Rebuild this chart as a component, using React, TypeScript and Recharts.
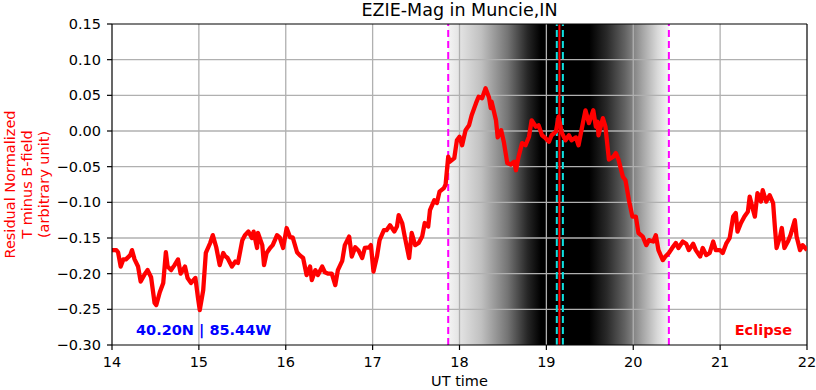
import React from "react";
import { LineChart, Line, XAxis, YAxis, ReferenceLine, ReferenceArea } from "recharts";

// UT hours and residual field
const utTime = [
  14.0, 14.05, 14.07, 14.1, 14.13, 14.16, 14.21, 14.23, 14.26, 14.3, 14.33, 14.38, 14.41, 14.45, 14.49, 14.51,
  14.55, 14.59, 14.62, 14.64, 14.68, 14.72, 14.76, 14.79, 14.84, 14.87, 14.91, 14.96, 14.99, 15.01, 15.05, 15.08,
  15.13, 15.16, 15.2, 15.24, 15.28, 15.3, 15.33, 15.38, 15.42, 15.45, 15.5, 15.53, 15.57, 15.61, 15.63, 15.67,
  15.68, 15.73, 15.75, 15.78, 15.82, 15.85, 15.9, 15.93, 15.97, 16.01, 16.05, 16.08, 16.13, 16.16, 16.2, 16.24,
  16.28, 16.3, 16.34, 16.37, 16.42, 16.45, 16.49, 16.53, 16.57, 16.6, 16.65, 16.68, 16.73, 16.76, 16.8, 16.84,
  16.88, 16.91, 16.96, 16.98, 17.01, 17.05, 17.08, 17.13, 17.16, 17.2, 17.25, 17.28, 17.3, 17.34, 17.37, 17.42,
  17.45, 17.49, 17.53, 17.57, 17.6, 17.64, 17.66, 17.71, 17.74, 17.77, 17.82, 17.84, 17.87, 17.89, 17.94, 17.97,
  18.0, 18.03, 18.07, 18.11, 18.14, 18.19, 18.22, 18.26, 18.3, 18.34, 18.36, 18.37, 18.42, 18.44, 18.48, 18.51,
  18.55, 18.59, 18.63, 18.65, 18.68, 18.72, 18.76, 18.8, 18.83, 18.88, 18.91, 18.95, 18.99, 19.03, 19.06, 19.11,
  19.14, 19.18, 19.22, 19.26, 19.29, 19.34, 19.37, 19.42, 19.45, 19.49, 19.54, 19.57, 19.59, 19.6, 19.65, 19.68,
  19.72, 19.77, 19.8, 19.83, 19.88, 19.91, 19.95, 19.99, 20.03, 20.06, 20.11, 20.15, 20.18, 20.23, 20.26, 20.29,
  20.34, 20.37, 20.41, 20.46, 20.49, 20.52, 20.57, 20.61, 20.64, 20.69, 20.72, 20.77, 20.8, 20.84, 20.88, 20.92,
  20.95, 21.0, 21.03, 21.07, 21.11, 21.15, 21.18, 21.2, 21.24, 21.28, 21.32, 21.34, 21.38, 21.4, 21.43, 21.47,
  21.49, 21.53, 21.57, 21.61, 21.63, 21.65, 21.69, 21.71, 21.74, 21.78, 21.81, 21.86, 21.88, 21.92, 21.95, 22.0,
];

const residual = [
  -0.167, -0.167, -0.17, -0.19, -0.18, -0.18, -0.174, -0.167, -0.18, -0.19, -0.211, -0.2, -0.195, -0.205, -0.241, -0.244,
  -0.226, -0.213, -0.17, -0.19, -0.195, -0.188, -0.18, -0.2, -0.19, -0.206, -0.213, -0.206, -0.234, -0.251, -0.223, -0.171,
  -0.157, -0.146, -0.163, -0.188, -0.171, -0.175, -0.178, -0.19, -0.183, -0.185, -0.153, -0.146, -0.141, -0.15, -0.141, -0.164,
  -0.143, -0.16, -0.188, -0.171, -0.164, -0.16, -0.146, -0.149, -0.164, -0.136, -0.149, -0.149, -0.17, -0.174, -0.178, -0.202,
  -0.19, -0.209, -0.195, -0.202, -0.19, -0.198, -0.2, -0.2, -0.216, -0.195, -0.182, -0.16, -0.148, -0.176, -0.163, -0.168,
  -0.178, -0.164, -0.163, -0.16, -0.197, -0.176, -0.153, -0.139, -0.139, -0.132, -0.141, -0.134, -0.118, -0.129, -0.148, -0.178,
  -0.143, -0.16, -0.157, -0.148, -0.129, -0.134, -0.111, -0.097, -0.101, -0.085, -0.08, -0.075, -0.036, -0.043, -0.038, -0.013,
  -0.008, -0.02, 0.001, 0.008, 0.022, 0.039, 0.048, 0.046, 0.06, 0.047, 0.032, 0.041, 0.015, -0.009, 0.001, -0.015,
  -0.045, -0.047, -0.043, -0.055, -0.036, -0.017, -0.02, -0.008, 0.015, 0.006, 0.008, -0.006, -0.01, -0.015, -0.006, -0.001,
  0.02, -0.003, -0.013, -0.006, -0.013, -0.009, -0.02, 0.011, 0.029, 0.011, 0.029, 0.006, 0.013, -0.006, 0.018, 0.006,
  -0.04, -0.036, -0.031, -0.04, -0.064, -0.069, -0.097, -0.12, -0.12, -0.143, -0.148, -0.16, -0.153, -0.155, -0.146, -0.167,
  -0.181, -0.176, -0.171, -0.162, -0.157, -0.164, -0.155, -0.158, -0.167, -0.158, -0.167, -0.176, -0.164, -0.174, -0.171, -0.155,
  -0.167, -0.167, -0.171, -0.158, -0.15, -0.12, -0.115, -0.141, -0.129, -0.12, -0.113, -0.092, -0.111, -0.12, -0.087, -0.099,
  -0.083, -0.099, -0.09, -0.101, -0.134, -0.164, -0.148, -0.136, -0.164, -0.155, -0.146, -0.125, -0.148, -0.167, -0.16, -0.167,
];

const xTicks = [14, 15, 16, 17, 18, 19, 20, 21, 22];
const yTicks = [-0.3, -0.25, -0.2, -0.15, -0.1, -0.05, 0, 0.05, 0.1, 0.15];

// eclipse window, totality markers
const eclipseStart = 17.87;
const eclipseEnd = 20.41;
const totalityStart = 19.12;
const totalityEnd = 19.19;
const maxEclipse = 19.15;

const data = utTime.map((t, i) => ({ t, v: residual[i] }));

const FONT = "DejaVu Sans";
const fmtY = (v: number) => (v < 0 ? `\u2212${Math.abs(v).toFixed(2)}` : v.toFixed(2));

export default function App() {
  return (
    <div style={{ position: "absolute", left: 0, top: 0, width: 816, height: 390, fontFamily: FONT, background: "#fff" }}>
      <LineChart width={816} height={390} data={data} margin={{ top: 24, right: 9, bottom: 0, left: 0 }}>
        <defs>
          <linearGradient id="shade" x1="0" y1="0" x2="1" y2="0">
            <stop offset="0" stopColor="#f4f4f4" />
            <stop offset="0.05" stopColor="#e4e4e4" />
            <stop offset="0.15" stopColor="#c0c0c0" />
            <stop offset="0.27" stopColor="#747474" />
            <stop offset="0.36" stopColor="#262626" />
            <stop offset="0.42" stopColor="#000" />
            <stop offset="0.64" stopColor="#000" />
            <stop offset="0.72" stopColor="#2a2a2a" />
            <stop offset="0.8" stopColor="#626262" />
            <stop offset="0.88" stopColor="#a4a4a4" />
            <stop offset="0.95" stopColor="#dadada" />
            <stop offset="1" stopColor="#f6f6f6" />
          </linearGradient>
        </defs>
        <XAxis
          dataKey="t"
          type="number"
          domain={[14, 22]}
          ticks={xTicks}
          allowDataOverflow
          height={45}
          tickSize={5}
          tickMargin={7}
          axisLine={{ stroke: "#000", strokeWidth: 1.2 }}
          tickLine={{ stroke: "#000", strokeWidth: 1.2 }}
          tick={{ fontSize: 14.5, fill: "#000", fontFamily: FONT }}
        />
        <YAxis
          type="number"
          domain={[-0.3, 0.15]}
          ticks={yTicks}
          allowDataOverflow
          width={112}
          tickSize={5}
          tickMargin={6}
          tickFormatter={fmtY}
          axisLine={{ stroke: "#000", strokeWidth: 1.2 }}
          tickLine={{ stroke: "#000", strokeWidth: 1.2 }}
          tick={{ fontSize: 14.5, fill: "#000", fontFamily: FONT }}
        />
        <ReferenceArea x1={eclipseStart} x2={eclipseEnd} y1={-0.3} y2={0.15} fill="url(#shade)" fillOpacity={1} stroke="none" />
        {xTicks.slice(1, -1).map((x) => (
          <ReferenceLine key={`gx${x}`} x={x} stroke="#b0b0b0" strokeWidth={1.3} />
        ))}
        {yTicks.slice(1, -1).map((y) => (
          <ReferenceLine key={`gy${y}`} y={y} stroke="#b0b0b0" strokeWidth={1.3} />
        ))}
        <ReferenceLine x={eclipseStart} stroke="#ff00ff" strokeWidth={2} strokeDasharray="7 4" />
        <ReferenceLine x={eclipseEnd} stroke="#ff00ff" strokeWidth={2} strokeDasharray="7 4" />
        <ReferenceLine x={totalityStart} stroke="#10e0e0" strokeWidth={2} strokeDasharray="7 4" />
        <ReferenceLine x={totalityEnd} stroke="#10e0e0" strokeWidth={2} strokeDasharray="7 4" />
        <ReferenceLine x={maxEclipse} stroke="#ff0000" strokeWidth={2} />
        <ReferenceLine y={0.15} stroke="#000" strokeWidth={1.2} />
        <ReferenceLine x={22} stroke="#000" strokeWidth={1.2} />
        <Line
          dataKey="v"
          type="linear"
          stroke="#ff0000"
          strokeWidth={4.3}
          dot={false}
          strokeLinejoin="round"
          isAnimationActive={false}
        />
      </LineChart>
      <svg width={816} height={390} style={{ position: "absolute", left: 0, top: 0, pointerEvents: "none" }}>
        <text x={459.5} y={16} textAnchor="middle" fontSize={17.5} fontFamily={FONT} fill="#000">
          EZIE-Mag in Muncie,IN
        </text>
        <text x={459.5} y={386} textAnchor="middle" fontSize={14.5} fontFamily={FONT} fill="#000">
          UT time
        </text>
        <g transform="translate(15,184.5) rotate(-90)">
          <text textAnchor="middle" fontSize={14.5} fontFamily={FONT} fill="#ff0000">
            <tspan x={0} y={0}>Residual Normalized</tspan>
            <tspan x={0} y={17}>T minus B-field</tspan>
            <tspan x={0} y={34}>(arbitrary unit)</tspan>
          </text>
        </g>
        <text x={136} y={335} fontSize={14.5} fontWeight="bold" fontFamily={FONT} fill="#0000ff">
          40.20N | 85.44W
        </text>
        <text x={792} y={335} textAnchor="end" fontSize={14.5} fontWeight="bold" fontFamily={FONT} fill="#ff0000">
          Eclipse
        </text>
      </svg>
    </div>
  );
}
